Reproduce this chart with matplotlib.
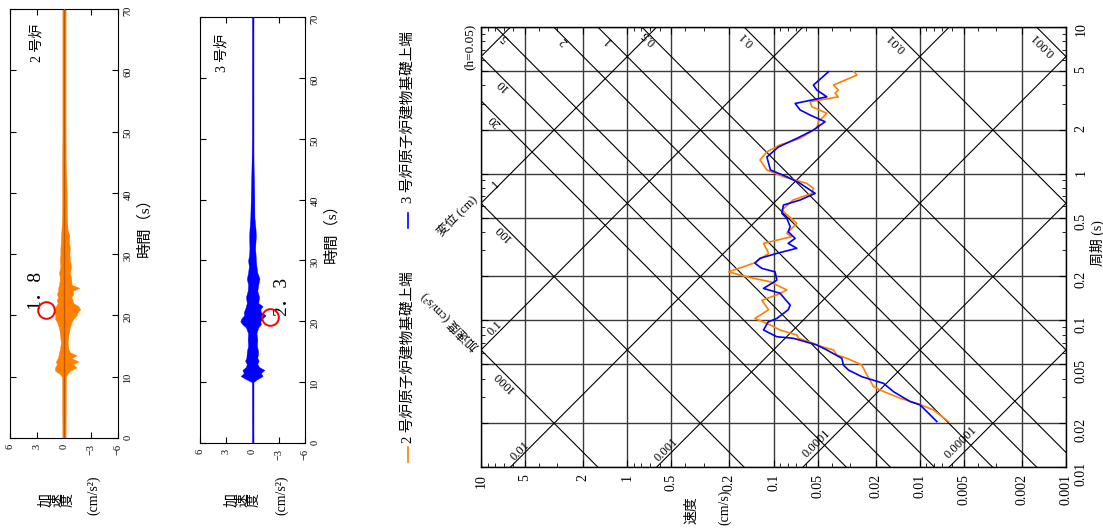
import matplotlib.pyplot as plt
from matplotlib.lines import Line2D
from matplotlib.ticker import LogLocator, NullFormatter
import numpy as np

plt.rcParams['font.family'] = ['Liberation Serif', 'Noto Sans CJK JP']
plt.rcParams['font.size'] = 9

W, H = 1103, 529

# ---- 時刻歴波形（包絡線を読み取り）----
t_u2 = [0, 10, 10.5, 11, 11.5, 12, 12.5, 13, 13.5, 14, 14.5, 15.5, 17, 18, 19, 19.5, 20, 20.5,
        21, 21.5, 22, 22.5, 23, 23.5, 24, 24.5, 25, 26, 27, 28, 29, 30, 31, 32, 33, 34, 36, 40,
        45, 50, 70]
pos_u2 = [0.18, 0.22, 0.5, 1.0, 1.0, 0.8, 0.9, 0.7, 0.6, 0.55, 0.45, 0.35, 0.45, 0.55, 0.8, 1.0,
          0.95, 1.1, 1.0, 0.9, 0.7, 0.8, 0.65, 0.8, 0.65, 0.65, 0.55, 0.45, 0.55, 0.4, 0.45, 0.4,
          0.4, 0.35, 0.35, 0.28, 0.22, 0.2, 0.2, 0.18, 0.18]
neg_u2 = [-0.18, -0.22, -0.4, -0.65, -1.4, -1.0, -1.6, -0.85, -1.4, -0.65, -0.5, -0.4, -0.5,
          -0.65, -0.85, -1.05, -1.4, -1.5, -1.8, -1.6, -1.05, -0.95, -0.8, -1.05, -0.95, -1.7,
          -0.85, -0.8, -0.65, -0.8, -0.65, -0.6, -0.65, -0.55, -0.6, -0.4, -0.33, -0.3, -0.2,
          -0.18, -0.18]

t_u3 = [0, 10, 10.5, 11, 11.5, 12, 12.5, 13, 13.5, 14, 15, 16, 17, 18, 19, 19.5, 20, 20.5, 21,
        21.5, 22, 22.5, 23, 24, 25, 26, 27, 28, 29, 30, 31, 32, 34, 35, 37, 40, 45, 50, 70]
pos_u3 = [0.05, 0.06, 0.75, 1.35, 1.0, 1.15, 0.75, 0.65, 0.85, 0.7, 0.65, 0.5, 0.55, 0.5, 0.75,
          1.15, 1.4, 1.25, 0.95, 1.0, 0.85, 0.75, 0.65, 0.75, 0.55, 0.5, 0.65, 0.5, 0.42, 0.5,
          0.38, 0.35, 0.38, 0.35, 0.25, 0.2, 0.12, 0.06, 0.05]
neg_u3 = [-0.05, -0.06, -0.55, -1.15, -0.95, -1.35, -0.75, -0.55, -0.7, -0.55, -0.65, -0.5,
          -0.55, -0.45, -0.65, -0.95, -0.9, -1.15, -1.5, -0.95, -0.9, -1.15, -0.65, -0.75, -0.55,
          -0.65, -0.8, -0.55, -0.45, -0.38, -0.35, -0.3, -0.38, -0.35, -0.22, -0.2, -0.12,
          -0.06, -0.05]

# 最大値の位置（赤丸）と値
peak_u2 = (2.0, 20.9, '1．8')
peak_u3 = (-2.0, 20.7, '2．3')

# ---- 応答スペクトル ----
T_u2 = [4.95, 4.70, 4.02, 3.72, 3.54, 3.34, 3.09, 2.86, 2.58, 2.26, 2.04, 1.74, 1.57, 1.41, 1.24,
        1.06, 0.953, 0.859, 0.794, 0.734, 0.661, 0.565, 0.458, 0.392, 0.372, 0.335, 0.286,
        0.245, 0.214, 0.198, 0.183, 0.161, 0.149, 0.137, 0.118, 0.103, 0.0929, 0.0859, 0.0794,
        0.0754, 0.0697, 0.0661, 0.0628, 0.0580, 0.0551, 0.0496, 0.0446, 0.0353, 0.0335,
        0.0294, 0.0272, 0.0245, 0.0204]
V_u2 = [0.0281, 0.0269, 0.0389, 0.0361, 0.0379, 0.0361, 0.0562, 0.0547, 0.0432, 0.0493, 0.0506,
        0.0658, 0.0902, 0.111, 0.1236, 0.111, 0.0855, 0.0592, 0.0533, 0.0547, 0.0735, 0.0877,
        0.0693, 0.0811, 0.0750, 0.117, 0.108, 0.137, 0.203, 0.152, 0.105, 0.0811, 0.0949,
        0.120, 0.108, 0.134, 0.105, 0.0902, 0.0693, 0.0676, 0.0533, 0.0468, 0.0389, 0.0369,
        0.0315, 0.0249, 0.0236, 0.0207, 0.0187, 0.0136, 0.0105, 0.00805, 0.00637]

T_u3 = [4.95, 4.02, 3.72, 3.53, 3.34, 3.01, 2.72, 2.51, 2.26, 1.98, 1.74, 1.52, 1.30, 1.06, 0.953,
        0.859, 0.734, 0.661, 0.611, 0.536, 0.496, 0.435, 0.402, 0.362, 0.335, 0.310, 0.286,
        0.265, 0.245, 0.226, 0.214, 0.188, 0.165, 0.153, 0.127, 0.118, 0.103, 0.0973, 0.0859,
        0.0773, 0.0754, 0.0679, 0.0628, 0.0551, 0.0496, 0.0458, 0.0413, 0.0372, 0.0326,
        0.0279, 0.0265, 0.0204]
V_u3 = [0.0421, 0.0533, 0.0506, 0.0468, 0.0432, 0.0711, 0.0658, 0.0562, 0.0444, 0.0536, 0.0693,
        0.0925, 0.111, 0.105, 0.0811, 0.0658, 0.0519, 0.0658, 0.0855, 0.0877, 0.0811, 0.0769,
        0.0794, 0.0711, 0.0794, 0.0693, 0.0949, 0.1236, 0.134, 0.120, 0.0975, 0.0949, 0.117,
        0.0902, 0.0769, 0.0794, 0.0949, 0.109, 0.117, 0.0949, 0.0731, 0.0506, 0.0432, 0.0341,
        0.0333, 0.0307, 0.0249, 0.0177, 0.0151, 0.0116, 0.00994, 0.00764]

vel_ticks = [10, 5, 2, 1, 0.5, 0.2, 0.1, 0.05, 0.02, 0.01, 0.005, 0.002, 0.001]
per_ticks = [10, 5, 2, 1, 0.5, 0.2, 0.1, 0.05, 0.02, 0.01]
disp_lines = [10, 1, 0.1, 0.01, 0.001, 0.0001, 0.00001]
acc_lines = [1000, 100, 20, 10, 5, 2, 1, 0.5, 0.1, 0.01, 0.001]

# 斜め目盛ラベル（値, 文字, ラベル中心までのずれ[px]）
disp_labels = [(1, '1', 15, 19), (0.1, '0.1', 14, 22), (0.01, '0.01', 10, 16),
               (0.001, '0.001', 10, 17), (0.0001, '0.0001', 14, 23), (0.00001, '0.00001', 12, 25)]
acc_labels = [(10, '10', 21, -28), (20, '20', 14, -20), (100, '100', 22, -29),
              (1000, '1000', 23, -31), (5, '5', 9, -11), (2, '2', 10, -14), (1, '1', 10, -13),
              (0.5, '0.5', 7, -11), (0.1, '0.1', 3, -12), (0.01, '0.01', 6, -15),
              (0.001, '0.001', 7, -17)]

c_u2 = '#ff8000'
c_u3 = '#0000ff'


def fig_xy(px, py):
    return px / W, 1 - py / H


fig = plt.figure(figsize=(W / 100, H / 100), dpi=100)


def time_axes(rect, t, pos, neg, color, core, peak, name, name_xy):
    ax = fig.add_axes(rect)
    ax.fill_betweenx(t, neg, pos, color=color, lw=0.3, zorder=2)
    ax.plot(np.zeros(2), [0, 70], color=core, lw=1.0, zorder=3)
    ax.plot(peak[0], peak[1], 'o', ms=12, mfc='none', mec='red', mew=1.4, zorder=4)
    ax.text(peak[0] + 1.3 * np.sign(peak[0]), peak[1] + 3.4, peak[2], rotation=90,
            ha='center', va='center', fontsize=14)
    ax.text(name_xy[0], name_xy[1], name, rotation=90, ha='center', va='center', fontsize=10)
    ax.set_xlim(6, -6)
    ax.set_ylim(0, 70)
    ax.set_xticks([6, 3, 0, -3, -6])
    ax.set_yticks(range(0, 71, 10))
    ax.tick_params(axis='x', direction='in', top=True, bottom=True, labelsize=7.5,
                   labelrotation=90, length=4, pad=4)
    ax.tick_params(axis='y', direction='in', left=True, right=True, labelleft=False,
                   labelright=True, labelsize=7.5, labelrotation=90, length=4, pad=4)
    ax.yaxis.set_label_position('right')
    ax.set_ylabel('時間（s）', rotation=90, fontsize=11, labelpad=3)
    return ax


ax1 = time_axes([10 / W, 1 - 438 / H, 108 / W, 429 / H], t_u2, pos_u2, neg_u2, c_u2, '#c05a00',
                peak_u2, '2 号炉', (3.1, 64.4))
ax2 = time_axes([200 / W, 1 - 443 / H, 105 / W, 426 / H], t_u3, pos_u3, neg_u3, c_u3, c_u3,
                peak_u3, '3 号炉', (3.5, 64.1))

for px, px2, py in [(57, 94, 500), (243, 282, 500)]:
    fig.text(*fig_xy(px, py), '加\n速\n度', rotation=90, ha='center', va='center',
             fontsize=10, linespacing=0.8)
    fig.text(*fig_xy(px2, py - 5), '(cm/s²)', rotation=90, ha='center', va='center', fontsize=10)

# ---- 応答スペクトル（三軸）----
ax3 = fig.add_axes([481 / W, 1 - 467 / H, 585 / W, 440 / H])
ax3.set_xscale('log')
ax3.set_yscale('log')

ax3.plot(V_u2, T_u2, color=c_u2, lw=1.2, zorder=4)
ax3.plot(V_u3, T_u3, color=c_u3, lw=1.2, zorder=4)

T_ext = np.array([1e-4, 1e3])
for d in disp_lines:
    ax3.plot(2 * np.pi * d / T_ext, T_ext, color='k', lw=0.8, zorder=2)
for a in acc_lines:
    ax3.plot(a * T_ext / (2 * np.pi), T_ext, color='k', lw=0.8, zorder=2)

ax3.set_xlim(10, 0.001)
ax3.set_ylim(0.01, 10)
ax3.set_xticks(vel_ticks)
ax3.set_xticklabels([f'{v:g}' for v in vel_ticks])
ax3.set_yticks(per_ticks)
ax3.set_yticklabels([f'{v:g}' for v in per_ticks])
for axis in (ax3.xaxis, ax3.yaxis):
    axis.set_minor_locator(LogLocator(base=10, subs=(3, 4, 6, 7, 8, 9), numticks=30))
    axis.set_minor_formatter(NullFormatter())
ax3.grid(True, which='major', color='#3a3a3a', lw=1.0, zorder=1)
ax3.tick_params(axis='x', which='both', direction='in', top=True, bottom=True,
                labelsize=10, labelrotation=90, pad=5)
ax3.tick_params(axis='y', which='both', direction='in', left=True, right=True,
                labelleft=False, labelright=True, labelsize=10, labelrotation=90, pad=6)
ax3.tick_params(which='major', length=5)
ax3.tick_params(which='minor', length=3)
for sp in ax3.spines.values():
    sp.set_linewidth(1.0)


def disp_edge(d):
    t_left = 2 * np.pi * d / 10
    if t_left >= 0.01:
        return 10, t_left
    return 2 * np.pi * d / 0.01, 0.01


def acc_edge(a):
    t_left = 20 * np.pi / a
    if t_left <= 10:
        return 10, t_left
    return 10 * a / (2 * np.pi), 10


for d, s, dx, dy in disp_labels:
    ax3.annotate(s, xy=disp_edge(d), xytext=(dx * 0.72, dy * 0.72), textcoords='offset points',
                 rotation=45, ha='center', va='center', fontsize=9, annotation_clip=False)
for a, s, dx, dy in acc_labels:
    ax3.annotate(s, xy=acc_edge(a), xytext=(dx * 0.72, dy * 0.72), textcoords='offset points',
                 rotation=135, ha='center', va='center', fontsize=9, annotation_clip=False)

ax3.annotate('変位 (cm)', xy=disp_edge(1), xytext=(-1, 1), textcoords='offset points',
             rotation=45, rotation_mode='anchor', ha='right', va='bottom', fontsize=9,
             annotation_clip=False)
ax3.annotate('加速度 (cm/s²)', xy=disp_edge(0.1), xytext=(-3, 1), textcoords='offset points',
             rotation=135, rotation_mode='anchor', ha='left', va='center', fontsize=9,
             annotation_clip=False)

fig.text(*fig_xy(470, 47), '(h=0.05)', rotation=90, ha='center', va='center', fontsize=9.5)
fig.text(*fig_xy(692, 510), '速度', rotation=90, ha='center', va='center', fontsize=10)
fig.text(*fig_xy(725, 507), '(cm/s)', rotation=90, ha='center', va='center', fontsize=10)
fig.text(*fig_xy(1097, 243), '周期 (s)', rotation=90, ha='center', va='center', fontsize=10)

# 凡例（縦書き）
for color, py0, py1, label, ty in [(c_u2, 447, 462, '2 号炉原子炉建物基礎上端', 357),
                                   (c_u3, 213, 228, '3 号炉原子炉建物基礎上端', 117)]:
    x0, y0 = fig_xy(408, py0)
    _, y1 = fig_xy(408, py1)
    fig.add_artist(Line2D([x0, x0], [y0, y1], color=color, lw=1.2, transform=fig.transFigure))
    fig.text(*fig_xy(408, ty), label, rotation=90, ha='center', va='center', fontsize=10.5)

fig.savefig('out.png', dpi=100)
